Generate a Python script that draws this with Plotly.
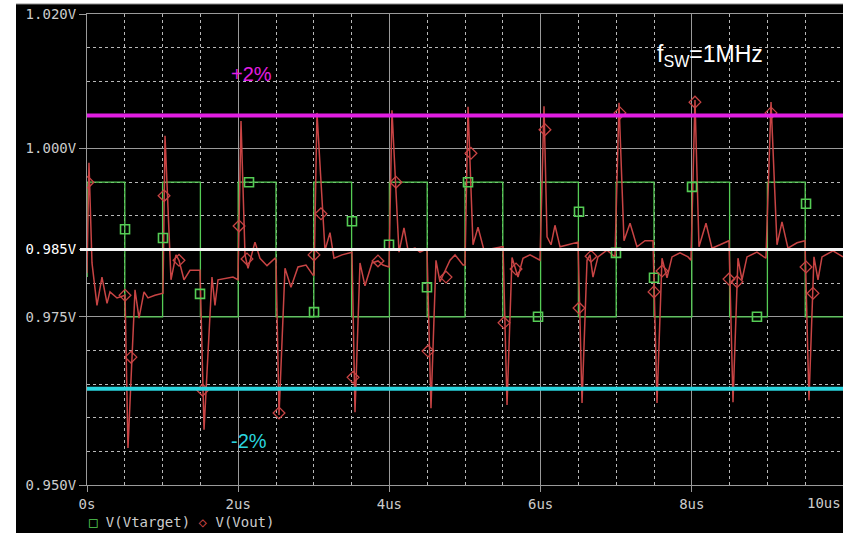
import plotly.graph_objects as go

# ---------------- data ----------------
# V(Vtarget): step levels (value holds until next time)
vt_t = [0.0, 0.002, 0.5, 1.0, 1.5, 2.0, 2.5, 3.0, 3.5, 4.0, 4.5, 5.0, 5.5, 6.0, 6.5,
        7.0, 7.5, 8.0, 8.5, 9.0, 9.5, 10.0]
vt_v = [0.981, 0.995, 0.975, 0.995, 0.975, 0.995, 0.975, 0.995, 0.975, 0.995, 0.975,
        0.995, 0.975, 0.995, 0.975, 0.995, 0.975, 0.995, 0.975, 0.995, 0.975, 0.975]

# V(Vtarget) marker points
vt_mk_t = [0.503, 1.005, 1.495, 2.143, 3.003, 3.505, 3.995, 4.497, 5.04, 5.966,
           6.508, 6.997, 7.500, 8.003, 8.862, 9.511]
vt_mk_v = [0.9880, 0.9867, 0.9784, 0.9950, 0.9757, 0.9892, 0.9857, 0.9794, 0.9950,
           0.9750, 0.9906, 0.9845, 0.9808, 0.9943, 0.9750, 0.9918]

# V(Vout) waveform
vo_t = [0.000, 0.026, 0.066, 0.132, 0.198, 0.265, 0.304, 0.397, 0.503,
        0.542, 0.635, 0.688, 0.754, 0.807, 0.899, 0.992,
        1.005, 1.032, 1.111, 1.177, 1.217, 1.283, 1.362, 1.495,
        1.548, 1.653, 1.693, 1.733, 1.931, 1.997,
        2.037, 2.090, 2.130, 2.222, 2.288, 2.381, 2.487,
        2.500, 2.540, 2.619, 2.698, 2.791, 2.897, 2.989,
        3.003, 3.042, 3.148, 3.214, 3.267, 3.373, 3.505,
        3.545, 3.611, 3.677, 3.770, 3.849, 3.915, 3.995,
        4.034, 4.127, 4.193, 4.246, 4.339, 4.405, 4.497,
        4.550, 4.616, 4.669, 4.802, 4.868, 4.974,
        5.000, 5.040, 5.106, 5.172, 5.251, 5.370, 5.489,
        5.503, 5.556, 5.622, 5.701, 5.767, 5.860, 5.992,
        6.045, 6.085, 6.138, 6.190, 6.257, 6.362, 6.495,
        6.548, 6.614, 6.653, 6.693, 6.759, 6.878, 6.984,
        7.037, 7.103, 7.183, 7.275, 7.381, 7.487,
        7.540, 7.606, 7.672, 7.738, 7.844, 7.950, 7.989,
        8.042, 8.095, 8.188, 8.267, 8.373, 8.492,
        8.545, 8.611, 8.664, 8.730, 8.862, 8.981,
        9.048, 9.127, 9.193, 9.272, 9.392, 9.497,
        9.550, 9.616, 9.669, 9.722, 9.868, 10.000]
vo_v = [0.9815, 0.9979, 0.9830, 0.9767, 0.9809, 0.9770, 0.9787, 0.9778, 0.9782,
        0.9555, 0.9790, 0.9748, 0.9787, 0.9778, 0.9782, 0.9785,
        0.9785, 1.0019, 0.9805, 0.9842, 0.9834, 0.9805, 0.9819, 0.9819,
        0.9582, 0.9809, 0.9767, 0.9805, 0.9809, 0.9805,
        1.0041, 0.9842, 0.9822, 0.9861, 0.9837, 0.9826, 0.9837,
        0.9834, 0.9604, 0.9822, 0.9794, 0.9824, 0.9827, 0.9812,
        0.9812, 1.0053, 0.9849, 0.9875, 0.9837, 0.9842, 0.9846,
        0.9608, 0.9830, 0.9796, 0.9830, 0.9833, 0.9827, 0.9824,
        1.0057, 0.9846, 0.9882, 0.9849, 0.9852, 0.9846, 0.9851,
        0.9614, 0.9834, 0.9802, 0.9834, 0.9842, 0.9827,
        0.9827, 1.0062, 0.9857, 0.9883, 0.9849, 0.9852, 0.9854,
        0.9854, 0.9619, 0.9838, 0.9809, 0.9837, 0.9842, 0.9834,
        1.0063, 0.9869, 0.9857, 0.9886, 0.9854, 0.9857, 0.9861,
        0.9622, 0.9834, 0.9842, 0.9809, 0.9839, 0.9849, 0.9839,
        1.0068, 0.9863, 0.9889, 0.9854, 0.9863, 0.9863,
        0.9622, 0.9837, 0.9808, 0.9839, 0.9845, 0.9839, 0.9834,
        1.0072, 0.9854, 0.9889, 0.9852, 0.9857, 0.9863,
        0.9623, 0.9837, 0.9805, 0.9839, 0.9846, 0.9837,
        1.0069, 0.9857, 0.9891, 0.9852, 0.9860, 0.9863,
        0.9626, 0.9839, 0.9805, 0.9839, 0.9848, 0.9839]

# V(Vout) marker points
vo_mk_t = [0.013, 0.503, 0.582, 1.019, 1.217, 1.530, 2.011, 2.116, 2.540, 3.003,
           3.095, 3.519, 3.849, 4.087, 4.511, 4.749, 5.079, 5.516, 5.675, 6.058,
           6.508, 6.667, 7.050, 7.500, 7.606, 8.042, 8.492, 8.598, 9.048, 9.511, 9.603]
vo_mk_v = [0.9950, 0.9782, 0.9690, 0.9930, 0.9834, 0.9641, 0.9885, 0.9836, 0.9607, 0.9842,
           0.9903, 0.9660, 0.9833, 0.9950, 0.9699, 0.9809, 0.9993, 0.9741, 0.9821, 1.0028,
           0.9763, 0.9840, 1.0053, 0.9787, 0.9818, 1.0069, 0.9806, 0.9802, 1.0053, 0.9824, 0.9785]

upper_limit = 1.0049
nominal = 0.985
lower_limit = 0.9643

y_tickvals = [0.950, 0.975, 0.985, 1.000, 1.020]
y_ticktext = ["0.950V", "0.975V", "<span style='color:#ffffff'>0.985V</span>", "1.000V", "1.020V"]
x_tickvals = [0, 2, 4, 6, 8]
x_ticktext = ["0s", "2us", "4us", "6us", "8us"]

# ---------------- figure ----------------
W, H = 843, 533
L, R, T, B = 87, 0, 14, 48
pw, ph = W - L - R, H - T - B

def px_x(p):
    return (p - L) / pw

def px_y(p):
    return (H - B - p) / ph

GREEN = "#55cc55"
RED = "#c84444"
MONO = "DejaVu Sans Mono"
LABEL = "#cccccc"

fig = go.Figure()
fig.add_trace(go.Scatter(x=vt_t, y=vt_v, mode="lines", line=dict(color=GREEN, width=1.3, shape="hv"),
                         showlegend=False, hoverinfo="skip"))
fig.add_trace(go.Scatter(x=vo_t, y=vo_v, mode="lines", line=dict(color=RED, width=1.5),
                         showlegend=False, hoverinfo="skip"))
fig.add_trace(go.Scatter(x=vt_mk_t, y=vt_mk_v, mode="markers",
                         marker=dict(symbol="square-open", size=9, color=GREEN, line=dict(width=1.6, color=GREEN)),
                         showlegend=False, hoverinfo="skip"))
fig.add_trace(go.Scatter(x=vo_mk_t, y=vo_mk_v, mode="markers",
                         marker=dict(symbol="diamond-open", size=9, color=RED, line=dict(width=1.3, color=RED)),
                         showlegend=False, hoverinfo="skip"))

shapes = [
    # black screen background
    dict(type="rect", xref="paper", yref="paper", x0=px_x(16), x1=1.0, y0=px_y(533), y1=px_y(4),
         fillcolor="black", line=dict(width=0), layer="below"),
    dict(type="line", xref="paper", yref="paper", x0=px_x(16), x1=1.0, y0=px_y(4), y1=px_y(4),
         line=dict(color="#888888", width=1), layer="below"),
    # limit lines
    dict(type="line", xref="paper", yref="y", x0=0, x1=1, y0=upper_limit, y1=upper_limit,
         line=dict(color="#e21ee2", width=4), layer="above"),
    dict(type="line", xref="paper", yref="y", x0=0, x1=1, y0=lower_limit, y1=lower_limit,
         line=dict(color="#2ad4de", width=4), layer="above"),
    dict(type="line", xref="paper", yref="y", x0=px_x(80), x1=1, y0=nominal, y1=nominal,
         line=dict(color="#f4f4f4", width=3), layer="above"),
]

annotations = [
    dict(x=2.17, y=1.0111, xref="x", yref="y", text="+2%", showarrow=False,
         font=dict(family="Liberation Sans", size=20, color="#e21ee2")),
    dict(x=2.14, y=0.9565, xref="x", yref="y", text="-2%", showarrow=False,
         font=dict(family="Liberation Sans", size=20, color="#2ad4de")),
    dict(x=8.24, y=1.0139, xref="x", yref="y", text="f<sub>SW</sub>=1MHz", showarrow=False,
         font=dict(family="Liberation Sans", size=23, color="#ffffff")),
    dict(x=1.0, y=px_y(503), xref="paper", yref="paper", text="10us", showarrow=False,
         xanchor="right", yanchor="middle", font=dict(family=MONO, size=14, color=LABEL)),
    dict(x=px_x(87), y=px_y(522), xref="paper", yref="paper", showarrow=False,
         xanchor="left", yanchor="middle",
         text="<span style='color:#55cc55'>□</span> V(Vtarget) <span style='color:#c84444'>◇</span> V(Vout)",
         font=dict(family=MONO, size=14, color=LABEL)),
]

fig.update_layout(
    width=W, height=H,
    margin=dict(l=L, r=R, t=T, b=B, pad=0),
    paper_bgcolor="white", plot_bgcolor="black",
    shapes=shapes, annotations=annotations,
    showlegend=False,
    xaxis=dict(range=[0, 10], tickvals=x_tickvals, ticktext=x_ticktext,
               showgrid=True, gridcolor="#9a9a9a", gridwidth=1,
               showline=True, linecolor="#9a9a9a", linewidth=1, mirror=True,
               ticks="outside", ticklen=6, tickcolor="#9a9a9a",
               tickfont=dict(family=MONO, size=14, color=LABEL),
               minor=dict(dtick=0.5, tick0=0, showgrid=True, gridcolor="#b8b8b8",
                          griddash="3px,3px", gridwidth=1),
               zeroline=False, fixedrange=True),
    yaxis=dict(range=[0.950, 1.020], tickvals=y_tickvals, ticktext=y_ticktext,
               showgrid=True, gridcolor="#9a9a9a", gridwidth=1,
               showline=True, linecolor="#9a9a9a", linewidth=1,
               ticks="outside", ticklen=7, tickcolor="#9a9a9a",
               tickfont=dict(family=MONO, size=14, color=LABEL),
               minor=dict(dtick=0.005, tick0=0.95, showgrid=True, gridcolor="#b8b8b8",
                          griddash="3px,3px", gridwidth=1),
               zeroline=False, fixedrange=True),
)

fig.write_html("out.html")
